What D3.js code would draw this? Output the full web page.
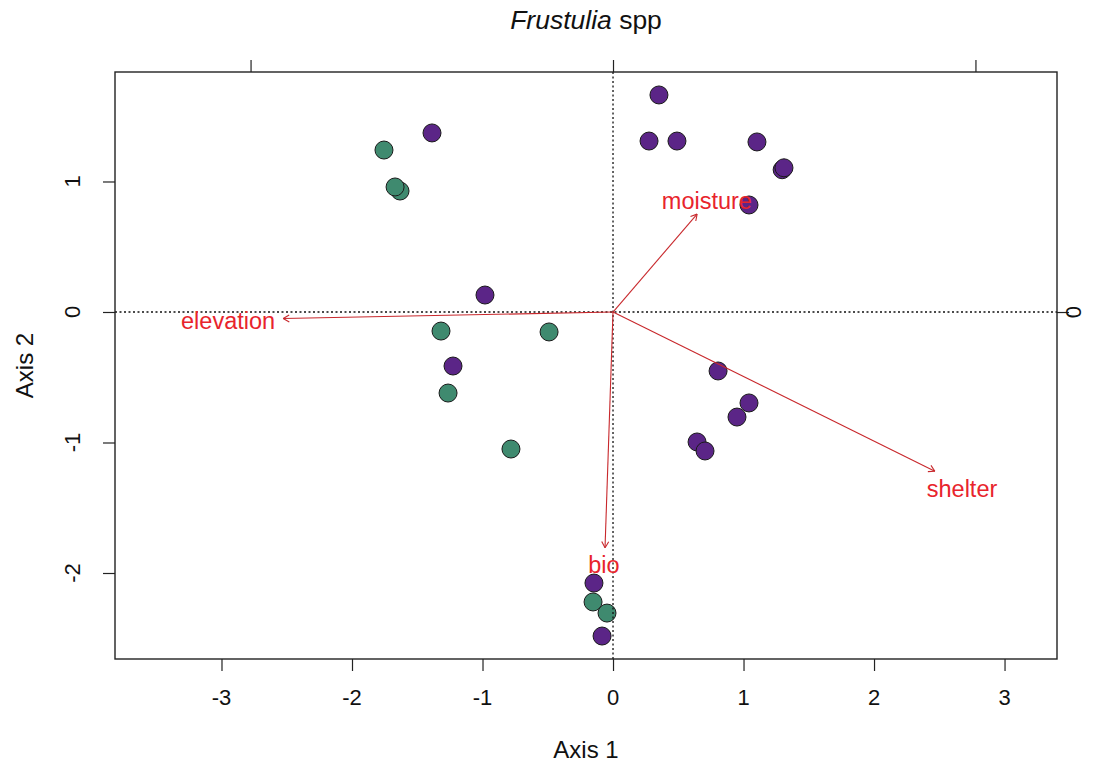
<!DOCTYPE html>
<html>
<head>
<meta charset="utf-8">
<script src="https://cdn.jsdelivr.net/npm/d3@7"></script>
<style>
  html, body { margin: 0; padding: 0; background: #ffffff; }
  svg { display: block; font-family: "Liberation Sans", Arial, sans-serif; }
</style>
</head>
<body>
<svg id="chart" width="1104" height="765"></svg>
<script>
// Site scores on the first two ordination axes
const purpleX = [0.352, 0.276, 0.490, 1.103, 1.296, 1.310, 1.042, -1.387, -0.981, -1.226, 0.805, 1.042, 0.950, 0.644, 0.705, -0.146, -0.084];
const purpleY = [1.663, 1.310, 1.310, 1.303, 1.090, 1.105, 0.820, 1.372, 0.130, -0.414, -0.452, -0.697, -0.805, -0.996, -1.065, -2.077, -2.483];
const greenX = [-1.755, -1.632, -1.670, -1.318, -0.490, -1.264, -0.782, -0.153, -0.046];
const greenY = [1.241, 0.927, 0.958, -0.146, -0.153, -0.621, -1.050, -2.222, -2.307];

// Environmental vectors (secondary axis units) and their label anchors
const vectorNames = ["moisture", "elevation", "shelter", "bio"];
const vectorX = [0.232, -0.910, 0.888, -0.022];
const vectorY = [0.270, -0.018, -0.439, -0.650];
const labelX = [0.259, -1.062, 0.963, -0.025];
const labelY = [0.306, -0.025, -0.488, -0.698];

// Tick labels
const xTicks = [-3, -2, -1, 0, 1, 2, 3];
const yTicks = [-2, -1, 0, 1];
const topTicks = [-1, 0, 1];
const rightTicks = [0];

(function () {
const svg = d3.select("#chart");
const W = 1104, H = 765;
const mL = 115, mR = 1057, mT = 72, mB = 659;

svg.append("rect").attr("width", W).attr("height", H).attr("fill", "#ffffff");

// Primary (site) scales
const x = d3.scaleLinear().domain([-3.816, 3.402]).range([mL, mR]);
const y = d3.scaleLinear().domain([-2.659, 1.839]).range([mB, mT]);
// Secondary (vector) scales
const x2 = d3.scaleLinear().domain([-1.374, 1.225]).range([mL, mR]);
const y2 = d3.scaleLinear().domain([-0.957, 0.662]).range([mB, mT]);

const axisColor = "#222";
const tickFont = 22;

// Bottom axis
const gB = svg.append("g").attr("transform", `translate(0,${mB})`)
  .call(d3.axisBottom(x).tickValues(xTicks).tickSize(12).tickFormat(""));
gB.select(".domain").remove();
gB.selectAll("line").attr("stroke", axisColor).attr("stroke-width", 1.2);
svg.append("g").selectAll("text").data(xTicks).join("text")
  .attr("x", d => x(d)).attr("y", 705)
  .attr("text-anchor", "middle")
  .attr("font-size", tickFont).attr("fill", "#111")
  .text(d => d);

// Left axis
const gL = svg.append("g").attr("transform", `translate(${mL},0)`)
  .call(d3.axisLeft(y).tickValues(yTicks).tickSize(12).tickFormat(""));
gL.select(".domain").remove();
gL.selectAll("line").attr("stroke", axisColor).attr("stroke-width", 1.2);
svg.append("g").selectAll("text").data(yTicks).join("text")
  .attr("transform", d => `translate(80,${y(d)}) rotate(-90)`)
  .attr("text-anchor", "middle")
  .attr("font-size", tickFont).attr("fill", "#111")
  .text(d => d);

// Top axis (vector scale, ticks only)
const gT = svg.append("g").attr("transform", `translate(0,${mT})`)
  .call(d3.axisTop(x2).tickValues(topTicks).tickSize(12).tickFormat(""));
gT.select(".domain").remove();
gT.selectAll("line").attr("stroke", axisColor).attr("stroke-width", 1.2);

// Right axis (vector scale)
const gR = svg.append("g").attr("transform", `translate(${mR},0)`)
  .call(d3.axisRight(y2).tickValues(rightTicks).tickSize(12).tickFormat(""));
gR.select(".domain").remove();
gR.selectAll("line").attr("stroke", axisColor).attr("stroke-width", 1.2);
svg.append("g").selectAll("text").data(rightTicks).join("text")
  .attr("transform", d => `translate(1081,${y2(d)}) rotate(-90)`)
  .attr("text-anchor", "middle")
  .attr("font-size", tickFont).attr("fill", "#111")
  .text(d => d);

// Axis titles
svg.append("text").attr("x", (mL + mR) / 2).attr("y", 758)
  .attr("text-anchor", "middle").attr("font-size", 24).attr("fill", "#111")
  .text("Axis 1");
svg.append("text").attr("transform", `translate(33,${(mT + mB) / 2}) rotate(-90)`)
  .attr("text-anchor", "middle").attr("font-size", 24).attr("fill", "#111")
  .text("Axis 2");

// Title
const title = svg.append("text").attr("x", (mL + mR) / 2).attr("y", 29)
  .attr("text-anchor", "middle").attr("font-size", 26.5).attr("fill", "#111");
title.append("tspan").attr("font-style", "italic").text("Frustulia");
title.append("tspan").text(" spp");

// Points
const pts = svg.append("g");
const drawPts = (xs, ys, fill) => {
  pts.selectAll(null).data(xs.map((v, i) => [v, ys[i]])).join("circle")
    .attr("cx", d => x(d[0])).attr("cy", d => y(d[1])).attr("r", 9)
    .attr("fill", fill).attr("stroke", "#1a1a1a").attr("stroke-width", 1);
};
drawPts(greenX, greenY, "#3f8a6f");
drawPts(purpleX, purpleY, "#5b2587");

// Reference lines through the origin
svg.append("line").attr("x1", mL).attr("x2", mR).attr("y1", y(0)).attr("y2", y(0))
  .attr("stroke", "#111").attr("stroke-width", 1.3).attr("stroke-dasharray", "2,2.5");
svg.append("line").attr("x1", x(0)).attr("x2", x(0)).attr("y1", mT).attr("y2", mB)
  .attr("stroke", "#111").attr("stroke-width", 1.3).attr("stroke-dasharray", "2,2.5");

// Vector arrows
const arrowColor = "#c8282c";
const ag = svg.append("g");
vectorNames.forEach((name, i) => {
  const x0 = x2(0), y0 = y2(0);
  const x1 = x2(vectorX[i]), y1 = y2(vectorY[i]);
  ag.append("line").attr("x1", x0).attr("y1", y0).attr("x2", x1).attr("y2", y1)
    .attr("stroke", arrowColor).attr("stroke-width", 1.1);
  const ang = Math.atan2(y1 - y0, x1 - x0);
  const len = 7, spread = Math.PI / 6;
  [ang + Math.PI - spread, ang + Math.PI + spread].forEach(a => {
    ag.append("line").attr("x1", x1).attr("y1", y1)
      .attr("x2", x1 + len * Math.cos(a)).attr("y2", y1 + len * Math.sin(a))
      .attr("stroke", arrowColor).attr("stroke-width", 1.1);
  });
});

// Vector labels
svg.append("g").selectAll("text").data(vectorNames).join("text")
  .attr("x", (d, i) => x2(labelX[i])).attr("y", (d, i) => y2(labelY[i]))
  .attr("dy", "0.35em")
  .attr("text-anchor", "middle")
  .attr("font-size", 23.5).attr("fill", "#e8242c")
  .text(d => d);

// Plot frame
svg.append("rect").attr("x", mL).attr("y", mT)
  .attr("width", mR - mL).attr("height", mB - mT)
  .attr("fill", "none").attr("stroke", axisColor).attr("stroke-width", 1.4);
})();
</script>
</body>
</html>
